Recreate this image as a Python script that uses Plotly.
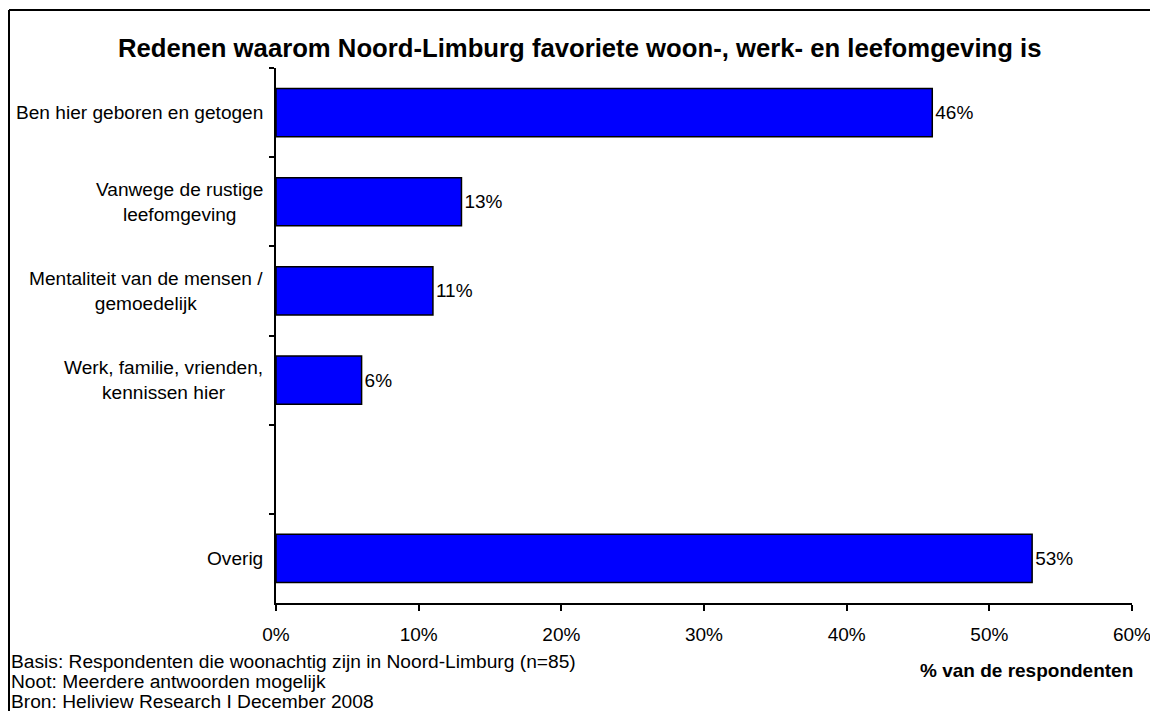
import plotly.graph_objects as go

# Survey answers, top to bottom; the blank slot separates "Overig"
categories = [
    "Ben hier geboren en getogen",
    "Vanwege de rustige<br>leefomgeving",
    "Mentaliteit van de mensen /<br>gemoedelijk",
    "Werk, familie, vrienden,<br>kennissen hier",
    " ",
    "Overig",
]
percentages = [46, 13, 11, 6, None, 53]
value_labels = ["46%", "13%", "11%", "6%", "", "53%"]
x_tick_values = [0, 10, 20, 30, 40, 50, 60]
x_tick_labels = ["0%", "10%", "20%", "30%", "40%", "50%", "60%"]

title_text = "Redenen waarom Noord-Limburg favoriete woon-, werk- en leefomgeving is"
x_axis_title = "% van de respondenten"
footnotes = [
    "Basis: Respondenten die woonachtig zijn in Noord-Limburg (n=85)",
    "Noot: Meerdere antwoorden mogelijk",
    "Bron: Heliview Research I December 2008",
]

FONT = "Liberation Sans, Arial, sans-serif"
W, H = 1150, 711
L, R, T, B = 276, 18, 68, 108
plot_w = W - L - R
plot_h = H - T - B


def px_x(px):
    return (px - L) / plot_w


def px_y(py):
    return (H - B - py) / plot_h


fig = go.Figure()
fig.add_trace(go.Bar(
    y=categories,
    x=percentages,
    orientation="h",
    marker=dict(color="#0000FF", line=dict(color="black", width=1.5)),
    text=value_labels,
    textposition="outside",
    textfont=dict(family=FONT, size=19, color="black"),
    cliponaxis=False,
    hoverinfo="skip",
))

annotations = []
for cat in categories:
    if cat.strip():
        annotations.append(dict(
            x=px_x(265), xref="paper", xanchor="right",
            y=cat, yref="y", yanchor="middle",
            text=cat, align="center", showarrow=False,
            font=dict(family=FONT, size=19.1, color="black"),
        ))

for i, note in enumerate(footnotes):
    annotations.append(dict(
        x=px_x(9), xref="paper", xanchor="left",
        y=px_y(661 + 20 * i), yref="paper", yanchor="middle",
        text=note, showarrow=False, align="left",
        font=dict(family=FONT, size=19.2, color="black"),
    ))

annotations.append(dict(
    x=px_x(1135), xref="paper", xanchor="right",
    y=px_y(670), yref="paper", yanchor="middle",
    text="<b>" + x_axis_title + "</b>", showarrow=False,
    font=dict(family=FONT, size=19, color="black"),
))

annotations.append(dict(
    x=px_x(579), xref="paper", xanchor="center",
    y=px_y(48), yref="paper", yanchor="middle",
    text="<b>" + title_text + "</b>", showarrow=False,
    font=dict(family=FONT, size=25.7, color="black"),
))

# Chart frame: top and left edges
frame = dict(type="line", xref="paper", yref="paper",
             line=dict(color="black", width=2), layer="below")
shapes = [
    dict(frame, x0=px_x(9), x1=px_x(1150), y0=px_y(10), y1=px_y(10)),
    dict(frame, x0=px_x(9), x1=px_x(9), y0=px_y(10), y1=px_y(711)),
]

fig.update_layout(
    width=W, height=H,
    margin=dict(l=L, r=R, t=T, b=B, autoexpand=False),
    paper_bgcolor="white", plot_bgcolor="white",
    showlegend=False,
    bargap=0.46,
    annotations=annotations,
    shapes=shapes,
    xaxis=dict(
        range=[0, 60], tickvals=x_tick_values, ticktext=x_tick_labels,
        showgrid=False, zeroline=False, automargin=False,
        showline=True, linecolor="black", linewidth=2,
        ticks="outside", ticklen=6, tickwidth=2, tickcolor="black",
        ticklabelstandoff=7, ticklabeloverflow="allow",
        tickfont=dict(family=FONT, size=19, color="black"),
    ),
    yaxis=dict(
        categoryorder="array", categoryarray=categories,
        autorange="reversed", automargin=False,
        showgrid=False, zeroline=False,
        showline=True, linecolor="black", linewidth=2,
        ticks="outside", ticklen=5, tickwidth=2, tickcolor="black",
        tickson="boundaries", showticklabels=False,
    ),
)

fig.write_html("out.html")
